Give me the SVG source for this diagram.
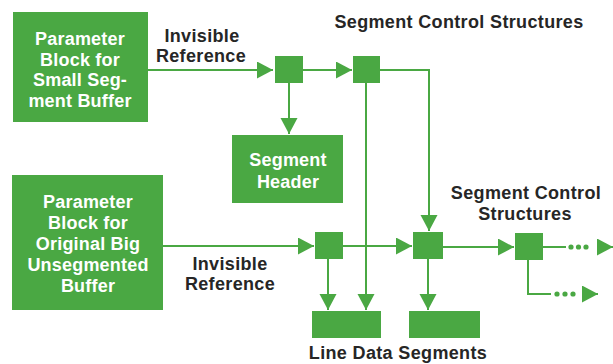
<svg xmlns="http://www.w3.org/2000/svg" width="613" height="364" viewBox="0 0 613 364">
  <defs>
    <style>
      .blk { fill: #4aa843; }
      .wt { fill: #ffffff; font-family: "Liberation Sans", Arial, sans-serif; font-weight: bold; font-size: 18px; letter-spacing: 0.2px; text-anchor: middle; }
      .dk { fill: #262626; font-family: "Liberation Sans", Arial, sans-serif; font-weight: bold; font-size: 18px; letter-spacing: 0.35px; text-anchor: middle; }
      .ln { fill: none; stroke: #4aa843; stroke-width: 2; }
      .arr { marker-end: url(#head); }
      .dot { fill: #4aa843; }
    </style>
    <marker id="head" markerUnits="userSpaceOnUse" markerWidth="17" markerHeight="18" refX="16" refY="8.5" orient="auto">
      <path d="M0,0 L16,8.5 L0,17 Z" fill="#4aa843"/>
    </marker>
  </defs>

  <rect width="613" height="364" fill="#ffffff"/>

  <!-- labels -->
  <text class="dk" x="459" y="28">Segment Control Structures</text>
  <text class="dk" x="202" y="42">Invisible</text>
  <text class="dk" x="201" y="62">Reference</text>
  <text class="dk" x="230" y="270">Invisible</text>
  <text class="dk" x="230" y="290">Reference</text>
  <text class="dk" x="526" y="199">Segment Control</text>
  <text class="dk" x="525" y="220">Structures</text>
  <text class="dk" x="398" y="359">Line Data Segments</text>

  <!-- connectors -->
  <g id="connectors">
    <path class="ln arr" d="M148,70 H273"/>
    <path class="ln arr" d="M303,70 H352"/>
    <path class="ln arr" d="M289,83 V134"/>
    <path class="ln arr" d="M380,70 H429 V231"/>
    <path class="ln arr" d="M366,83 V310"/>
    <path class="ln arr" d="M163,246 H314"/>
    <path class="ln arr" d="M343,246 H412"/>
    <path class="ln arr" d="M328,259 V310"/>
    <path class="ln arr" d="M428,259 V310"/>
    <path class="ln arr" d="M443,247 H514"/>
    <path class="ln" d="M543,247 H566"/>
    <circle class="dot" cx="571" cy="247" r="2.6"/>
    <circle class="dot" cx="578.5" cy="247" r="2.6"/>
    <circle class="dot" cx="586" cy="247" r="2.6"/>
    <path class="ln arr" d="M599,247 H613"/>
    <path class="ln" d="M528,260 V294 H551"/>
    <circle class="dot" cx="557" cy="294" r="2.6"/>
    <circle class="dot" cx="565" cy="294" r="2.6"/>
    <circle class="dot" cx="573" cy="294" r="2.6"/>
    <path class="ln arr" d="M584,294 H598"/>
  </g>

  <!-- nodes -->
  <g id="param-small">
    <rect class="blk" x="13" y="12" width="135" height="110"/>
    <text class="wt" x="80" y="45">Parameter</text>
    <text class="wt" x="80" y="65.5">Block for</text>
    <text class="wt" x="80" y="86">Small Seg-</text>
    <text class="wt" x="80" y="106.5">ment Buffer</text>
  </g>
  <g id="param-big">
    <rect class="blk" x="12" y="175" width="151" height="135"/>
    <text class="wt" x="88" y="208">Parameter</text>
    <text class="wt" x="88" y="229">Block for</text>
    <text class="wt" x="88" y="250">Original Big</text>
    <text class="wt" x="88" y="271">Unsegmented</text>
    <text class="wt" x="88" y="292">Buffer</text>
  </g>
  <g id="segment-header">
    <rect class="blk" x="232" y="135" width="111" height="68"/>
    <text class="wt" x="288" y="166">Segment</text>
    <text class="wt" x="288" y="188">Header</text>
  </g>
  <g id="ctl-1"><rect class="blk" x="275" y="56" width="28" height="27"/></g>
  <g id="ctl-2"><rect class="blk" x="353" y="56" width="27" height="27"/></g>
  <g id="ctl-3"><rect class="blk" x="315" y="232" width="28" height="27"/></g>
  <g id="ctl-4"><rect class="blk" x="413" y="232" width="30" height="27"/></g>
  <g id="ctl-5"><rect class="blk" x="515" y="233" width="28" height="27"/></g>
  <g id="data-1"><rect class="blk" x="312" y="311" width="69" height="27"/></g>
  <g id="data-2"><rect class="blk" x="409" y="311" width="71" height="27"/></g>
</svg>
